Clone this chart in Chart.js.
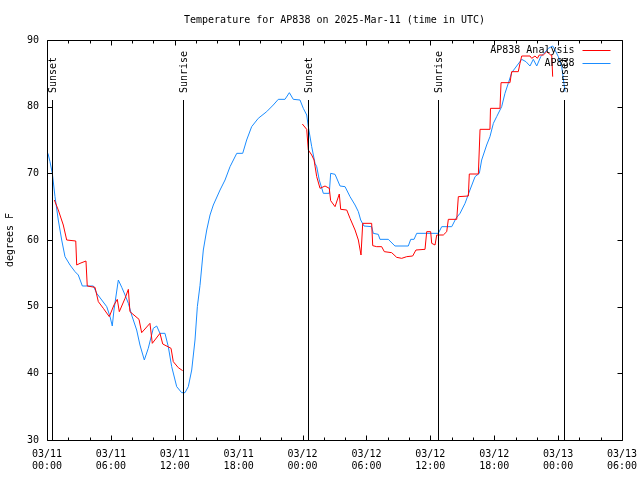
<!DOCTYPE html>
<html>
<head>
<meta charset="utf-8">
<title>AP838 temperature</title>
<script src="https://cdn.jsdelivr.net/npm/chart.js@4/dist/chart.umd.min.js"></script>
<style>
  html, body { margin: 0; padding: 0; background: #fff; }
</style>
</head>
<body>
<canvas id="temps" width="640" height="480"></canvas>
<script>
'use strict';

const chartTitle = 'Temperature for AP838 on 2025-Mar-11 (time in UTC)';
const yTitle = 'degrees F';
const stationName = 'AP838';
const analysisName = 'AP838 Analysis';

// x values are hours after 03/11 00:00 UTC
const stationHours = [0.09, 0.28, 0.50, 0.75, 1.06, 1.38, 1.69, 2.16, 2.63, 2.94, 3.32, 4.35, 4.67, 5.14, 5.61,
  5.92, 6.13, 6.29, 6.70, 7.02, 7.33, 7.64, 7.95, 8.42, 8.73, 9.14, 9.51, 9.98, 10.30, 10.61, 11.08, 11.39,
  11.71, 12.18, 12.65, 12.96, 13.27, 13.59, 13.90, 14.12, 14.37, 14.68, 15.00, 15.31, 15.62, 16.25, 16.72,
  17.19, 17.82, 18.38, 18.75, 19.22, 19.84, 20.63, 21.25, 21.72, 22.35, 22.76, 23.13, 23.76, 24.07, 24.39,
  24.54, 24.86, 25.17, 25.33, 25.57, 25.95, 26.51, 26.64, 27.05, 27.52, 27.99, 28.46, 28.93, 29.24, 29.46,
  29.77, 30.49, 30.64, 31.11, 31.27, 32.05, 32.68, 33.93, 34.16, 34.47, 34.72, 36.75, 37.07, 38.01, 38.41,
  38.79, 39.26, 39.72, 40.20, 40.60, 40.82, 41.29, 41.60, 41.92, 42.23, 42.70, 43.01, 43.32, 43.64, 44.11,
  44.58, 44.98, 45.36, 45.67, 45.99, 46.37, 46.68, 47.08, 47.49, 47.71, 48.02, 48.34, 48.65];
const stationTemps = [73.0, 71.75, 70.0, 66.5, 63.0, 60.0, 57.5, 56.25, 55.25, 54.75, 53.1, 53.1, 52.0, 51.0, 50.0,
  48.5, 47.1, 49.5, 54.0, 52.9, 51.75, 50.5, 48.75, 46.5, 44.25, 42.0, 43.75, 46.75, 47.1, 46.0, 46.0, 44.0,
  41.0, 38.0, 37.1, 37.1, 38.0, 40.5, 45.0, 50.0, 53.2, 58.5, 61.5, 63.75, 65.25, 67.5, 69.0,
  71.0, 73.0, 73.0, 75.0, 77.0, 78.25, 79.25, 80.25, 81.1, 81.1, 82.1, 81.1, 81.0, 79.75, 78.75,
  77.0, 74.0, 71.5, 71.0, 69.0, 67.0, 67.0, 70.0, 69.85, 68.1, 68.0, 66.5, 65.25, 64.25, 63.0,
  62.1, 62.0, 61.0, 60.85, 60.1, 60.1, 59.1, 59.1, 60.1, 60.1, 61.0, 61.0, 62.0, 62.0, 63.25,
  64.0, 65.5, 67.5, 69.5, 70.0, 72.0, 74.25, 75.5, 77.5, 78.5, 80.0, 82.0, 83.5, 85.1, 86.1,
  87.1, 86.75, 86.1, 87.1, 86.1, 87.5, 88.0, 88.75, 89.1, 88.5, 87.5, 86.0, 82.25];

// the analysis has no values during the first afternoon (null = gap)
const analysisHours = [0.69, 1.06, 1.53, 1.85, 2.70, 2.79, 3.10, 3.66, 3.78, 4.51, 4.82, 5.29, 5.85, 6.29,
  6.60, 6.79, 7.33, 7.64, 7.79, 8.64, 8.89, 9.67, 9.89, 10.61, 10.87, 11.65, 11.86, 12.33, 12.74,
  18.0,
  23.98, 24.39, 24.54, 24.86, 25.08, 25.33, 25.64, 26.11, 26.51, 26.64, 27.05, 27.45, 27.58, 28.15, 28.46,
  28.93, 29.24, 29.49, 29.65, 30.49, 30.59, 30.96, 31.43, 31.68, 32.37, 32.84, 33.31, 33.78, 34.34, 34.65,
  35.50, 35.66, 36.03, 36.13, 36.44, 36.60, 37.22, 37.54, 37.69, 38.48, 38.63, 39.57, 39.66, 40.51, 40.67,
  41.60, 41.65, 42.54, 42.64, 43.48, 43.64, 44.26, 44.42, 44.58, 45.36, 45.52, 45.83, 46.05, 46.23, 46.61,
  46.93, 47.31, 47.40, 47.49];
const analysisTemps = [66.0, 64.5, 62.25, 60.0, 59.85, 56.25, 56.5, 56.85, 53.1, 52.9, 50.75, 49.75, 48.5, 50.25,
  51.1, 49.25, 51.25, 52.6, 49.25, 48.1, 46.1, 47.5, 44.5, 46.0, 44.4, 43.75, 41.75, 40.85, 40.4,
  null,
  77.4, 76.6, 73.5, 72.75, 72.0, 69.5, 67.75, 68.1, 67.75, 65.9, 65.0, 66.9, 64.6, 64.5, 63.25,
  61.5, 60.0, 57.75, 62.5, 62.5, 59.15, 59.0, 59.0, 58.25, 58.1, 57.4, 57.25, 57.5, 57.6, 58.5,
  58.6, 61.25, 61.25, 59.5, 59.25, 60.75, 60.75, 61.25, 63.1, 63.1, 66.5, 66.6, 69.9, 69.9, 76.6,
  76.6, 79.75, 79.75, 83.6, 83.6, 85.25, 85.25, 86.5, 87.6, 87.6, 87.25, 87.6, 87.25, 87.75, 87.75,
  88.25, 87.75, 87.75, 84.5];

const tickHours = [0, 6, 12, 18, 24, 30, 36, 42, 48, 54];
const tickLabels = [['03/11', '00:00'], ['03/11', '06:00'], ['03/11', '12:00'], ['03/11', '18:00'],
  ['03/12', '00:00'], ['03/12', '06:00'], ['03/12', '12:00'], ['03/12', '18:00'],
  ['03/13', '00:00'], ['03/13', '06:00']];
const minorTickHours = [2, 4, 8, 10, 14, 16, 20, 22, 26, 28, 32, 34, 38, 40, 44, 46, 50, 52];
const tempTicks = [30, 40, 50, 60, 70, 80, 90];

const sunHours = [0.50, 12.80, 24.54, 36.75, 48.57];
const sunLabels = ['Sunset', 'Sunrise', 'Sunset', 'Sunrise', 'Sunset'];

const FONT = '"DejaVu Sans Mono", "Liberation Mono", monospace';
const RED = '#ff0000';
const BLUE = '#1a8cff';

function toPoints(xs, ys) {
  return xs.map((x, i) => ({ x: x, y: ys[i] }));
}

function crisp(v) {
  return Math.round(v) + 0.5;
}

// gnuplot style frame, inward ticks, sunrise/sunset markers and the key
const gnuplotDecor = {
  id: 'gnuplotDecor',
  afterDatasetsDraw(chart) {
    const ctx = chart.ctx;
    const a = chart.chartArea;
    const xs = chart.scales.x;
    const ys = chart.scales.y;
    const left = crisp(a.left), right = crisp(a.right), top = crisp(a.top), bottom = crisp(a.bottom);

    ctx.save();
    ctx.strokeStyle = '#000';
    ctx.lineWidth = 1;
    ctx.beginPath();
    ctx.rect(left, top, right - left, bottom - top);

    tickHours.forEach(h => {
      const px = crisp(xs.getPixelForValue(h));
      ctx.moveTo(px, bottom); ctx.lineTo(px, bottom - 5);
      ctx.moveTo(px, top); ctx.lineTo(px, top + 5);
    });
    minorTickHours.forEach(h => {
      const px = crisp(xs.getPixelForValue(h));
      ctx.moveTo(px, bottom); ctx.lineTo(px, bottom - 3);
      ctx.moveTo(px, top); ctx.lineTo(px, top + 3);
    });
    tempTicks.forEach(t => {
      const py = crisp(ys.getPixelForValue(t));
      ctx.moveTo(left, py); ctx.lineTo(left + 5, py);
      ctx.moveTo(right, py); ctx.lineTo(right - 5, py);
    });

    // markers reach 85% of the plot height
    const markTop = Math.round(a.bottom - 0.85 * (a.bottom - a.top));
    sunHours.forEach(h => {
      const px = crisp(xs.getPixelForValue(h));
      ctx.moveTo(px, bottom); ctx.lineTo(px, markTop);
    });
    ctx.stroke();

    ctx.fillStyle = '#000';
    ctx.font = '10px ' + FONT;
    ctx.textBaseline = 'middle';
    ctx.textAlign = 'left';
    sunHours.forEach((h, i) => {
      const px = xs.getPixelForValue(h);
      ctx.save();
      ctx.translate(Math.round(px) + 1, markTop - 7);
      ctx.rotate(-Math.PI / 2);
      ctx.fillText(sunLabels[i], 0, 0);
      ctx.restore();
    });

    // key, top right
    const keys = [[analysisName, RED], [stationName, BLUE]];
    ctx.textAlign = 'right';
    keys.forEach((k, i) => {
      const ky = Math.round(a.top) + 10 + i * 13;
      ctx.fillStyle = '#000';
      ctx.fillText(k[0], right - 48, ky);
      ctx.strokeStyle = k[1];
      ctx.beginPath();
      ctx.moveTo(right - 40, ky + 0.5);
      ctx.lineTo(right - 12, ky + 0.5);
      ctx.stroke();
    });
    ctx.restore();
  }
};

const ctx = document.getElementById('temps');
const chart = new Chart(ctx, {
  type: 'line',
  data: {
    datasets: [{
      label: analysisName,
      data: toPoints(analysisHours, analysisTemps),
      borderColor: RED,
      borderWidth: 1,
      pointRadius: 0,
      spanGaps: false,
      fill: false
    }, {
      label: stationName,
      data: toPoints(stationHours, stationTemps),
      borderColor: BLUE,
      borderWidth: 1,
      pointRadius: 0,
      fill: false
    }]
  },
  options: {
    responsive: false,
    animation: false,
    devicePixelRatio: 1,
    layout: { padding: { left: 0, right: 18, top: 0, bottom: 0 } },
    plugins: {
      legend: { display: false },
      tooltip: { enabled: false },
      title: {
        display: true,
        fullSize: false,
        text: chartTitle,
        color: '#000',
        font: { family: FONT, size: 10, weight: 'normal' },
        padding: { top: 14, bottom: 14 }
      }
    },
    scales: {
      x: {
        type: 'linear',
        min: 0,
        max: 54,
        afterBuildTicks: scale => {
          scale.ticks = tickHours.map(h => ({ value: h }));
        },
        afterFit: scale => {
          scale.height = 40;
          scale.paddingLeft = 0;
          scale.paddingRight = 0;
        },
        ticks: {
          autoSkip: false,
          maxRotation: 0,
          padding: 8,
          color: '#000',
          font: { family: FONT, size: 10 },
          callback: (value, index) => tickLabels[index]
        },
        grid: { display: false, drawTicks: false },
        border: { display: false }
      },
      y: {
        min: 30,
        max: 90,
        afterBuildTicks: scale => {
          scale.ticks = tempTicks.map(t => ({ value: t }));
        },
        afterFit: scale => { scale.width = 47; },
        ticks: {
          padding: 8,
          color: '#000',
          font: { family: FONT, size: 10 }
        },
        grid: { display: false, drawTicks: false },
        border: { display: false },
        title: {
          display: true,
          text: yTitle,
          color: '#000',
          font: { family: FONT, size: 10 },
          padding: { top: 4, bottom: 4 }
        }
      }
    }
  },
  plugins: [gnuplotDecor]
});
</script>
</body>
</html>
